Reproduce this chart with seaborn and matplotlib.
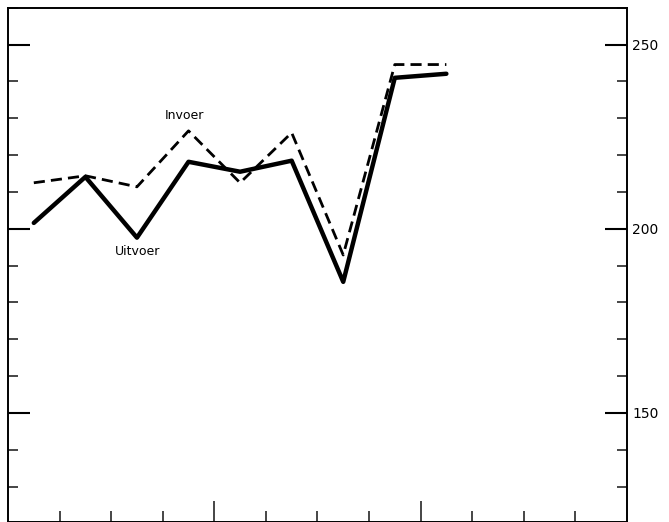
import numpy as np
import pandas as pd
import seaborn as sns
import matplotlib.pyplot as plt
from matplotlib.ticker import MultipleLocator, FixedLocator

# period positions (midpoints of the 12 intervals on the x axis)
periods = [0.5, 1.5, 2.5, 3.5, 4.5, 5.5, 6.5, 7.5, 8.5]
uitvoer = [201.6, 214.1, 197.6, 218.2, 215.5, 218.5, 185.6, 241.0, 242.1]
invoer = [212.5, 214.4, 211.4, 226.6, 212.5, 226.1, 192.9, 244.6, 244.6]
right_ticks = [150, 200, 250]
right_labels = ['150', '200', '250']


def build_frame():
    frame = pd.DataFrame({
        'periode': periods * 2,
        'index': uitvoer + invoer,
        'reeks': ['Uitvoer'] * len(periods) + ['Invoer'] * len(periods),
    })
    return frame


def trade_plot(frame):
    sns.set_theme(style="white")
    plt.rcParams['font.family'] = ['DejaVu Sans']
    fig = plt.figure(figsize=(6.69, 5.22), dpi=100)
    ax = fig.add_axes([0.012, 0.0, 0.925, 0.985])

    sns.lineplot(data=frame, x='periode', y='index', style='reeks',
                 dashes={'Uitvoer': '', 'Invoer': (4, 2.2)},
                 color='black', legend=False, ax=ax)
    ax.lines[0].set_linewidth(3.2)
    ax.lines[1].set_linewidth(2.0)

    ax.set_xlim(0, 12)
    ax.set_ylim(120.4, 260)
    ax.set_xlabel('')
    ax.set_ylabel('')

    for side in ax.spines.values():
        side.set_color('black')
        side.set_linewidth(1.4)

    # y ticks on both sides, pointing inward, labels only right
    ax.yaxis.set_major_locator(FixedLocator(right_ticks))
    ax.yaxis.set_minor_locator(MultipleLocator(10))
    ax.tick_params(axis='y', which='major', direction='in', length=16, width=1.5,
                   left=True, right=True, labelleft=False, labelright=True,
                   labelsize=10, pad=4, colors='black')
    ax.tick_params(axis='y', which='minor', direction='in', length=7, width=1.2,
                   left=True, right=True)
    ax.set_yticklabels(right_labels)

    # x ticks from the bottom, every 4th one long
    ax.xaxis.set_major_locator(FixedLocator([4, 8]))
    ax.xaxis.set_minor_locator(FixedLocator([1, 2, 3, 5, 6, 7, 9, 10, 11]))
    ax.tick_params(axis='x', which='major', direction='in', length=15, width=1.2,
                   bottom=True, labelbottom=False)
    ax.tick_params(axis='x', which='minor', direction='in', length=8, width=1.2,
                   bottom=True)

    ax.text(3.43, 230.7, 'Invoer', fontsize=9, color='black', ha='center', va='center')
    ax.text(2.52, 193.8, 'Uitvoer', fontsize=9, color='black', ha='center', va='center')

    fig.savefig('out.png', dpi=100)


if __name__ == '__main__':
    data_frame = build_frame()
    trade_plot(data_frame)
